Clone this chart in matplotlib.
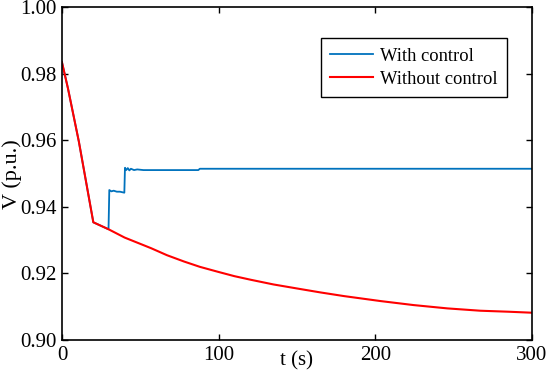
import matplotlib
matplotlib.use("Agg")
import matplotlib.pyplot as plt

# Without control (red)
t_red = [0, 3.8, 10.8, 20, 29.7, 40, 56.9, 67, 77.9, 88, 99.6, 110, 120.6, 135, 152.4, 165, 180,
         203.4, 224.4, 246, 267, 285, 300]
v_red = [0.9835, 0.9757, 0.9596, 0.9354, 0.9333, 0.9308, 0.9276, 0.9255, 0.9236, 0.9220, 0.9205,
         0.9192, 0.9181, 0.9167, 0.9153, 0.9143, 0.9132, 0.9117, 0.9105, 0.9095, 0.9088, 0.9085, 0.9082]

# With control (blue)
t_blue = [0, 3.8, 10.8, 20, 29.7, 30.2, 31.5, 33, 35, 37, 39.8, 40.2, 41, 42, 43, 44, 46, 48, 52, 87, 88, 300]
v_blue = [0.9835, 0.9757, 0.9596, 0.9354, 0.9333, 0.9451, 0.9447, 0.9449, 0.9446, 0.9446, 0.9443,
          0.9518, 0.9511, 0.9517, 0.9510, 0.9515, 0.9511, 0.9513, 0.9511, 0.9511, 0.9515, 0.9515]

xticks = [0, 100, 200, 300]
yticks = [0.90, 0.92, 0.94, 0.96, 0.98, 1.00]

plt.rcParams['font.family'] = ['Liberation Serif', 'DejaVu Serif']
FS = 15
plt.rcParams['font.size'] = FS

fig = plt.figure(figsize=(5.5, 3.71), dpi=100)
ax = fig.add_axes([0.1127, 0.0836, 0.8546, 0.8962])

ax.plot(t_blue, v_blue, color='#0072BD', lw=1.3, label='With control')
ax.plot(t_red, v_red, color='#FF0000', lw=1.5, label='Without control')

ax.set_xlim(0, 300)
ax.set_ylim(0.90, 1.00)
ax.set_xticks(xticks)
ax.set_yticks(yticks)
ax.set_yticklabels([f"{v:.2f}" for v in yticks])
ax.tick_params(direction='in', length=4, width=1, top=True, right=True, pad=4, labelsize=FS)
for s in ax.spines.values():
    s.set_linewidth(1.2)

ax.set_xlabel('t (s)', fontsize=FS)
ax.xaxis.set_label_coords(0.5, -0.035)
ax.set_ylabel('V (p.u.)', fontsize=16)
ax.yaxis.set_label_coords(-0.085, 0.5)

leg = ax.legend(loc='upper right', bbox_to_anchor=(0.946, 0.907), frameon=True, fancybox=False,
                edgecolor='black', framealpha=1, handlelength=2.3, handletextpad=0.38,
                borderpad=0.5, labelspacing=0.32, fontsize=13.3, borderaxespad=0)
leg.get_frame().set_linewidth(1.0)

fig.savefig('out.png', dpi=100)
